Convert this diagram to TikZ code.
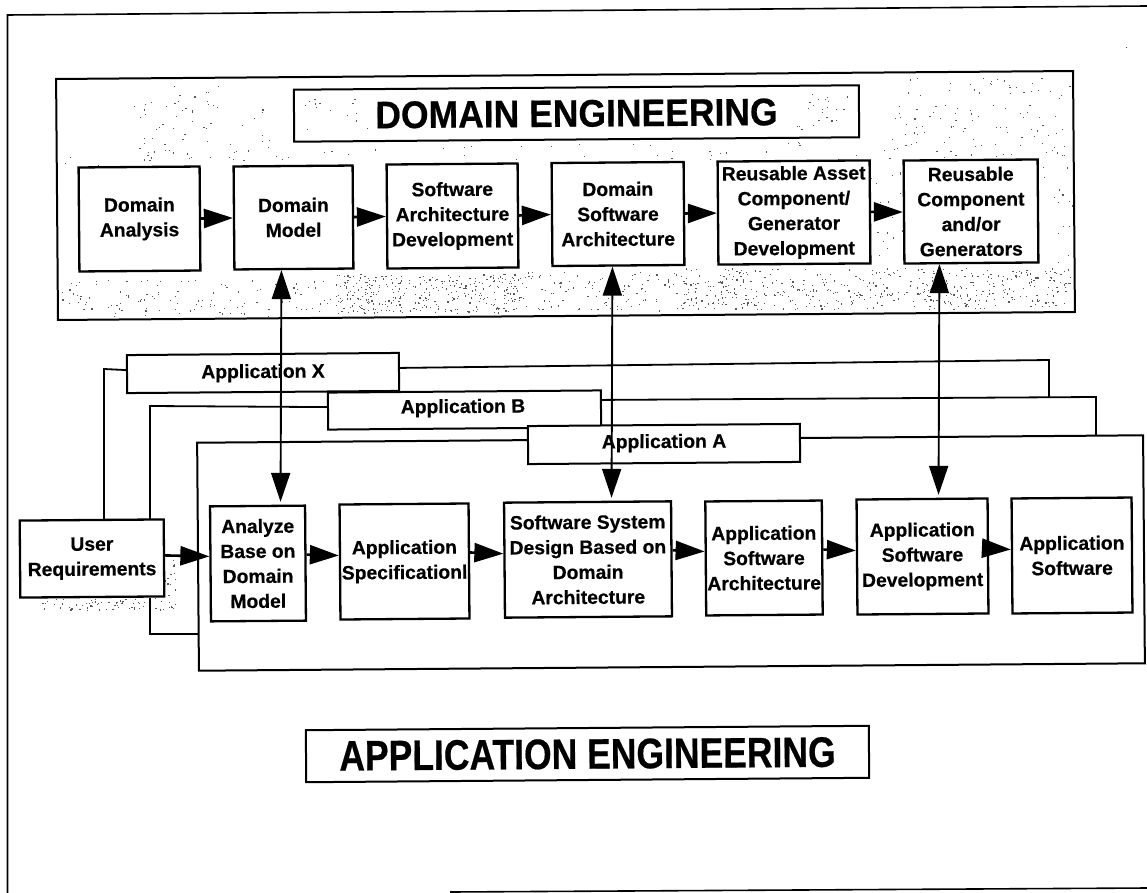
\documentclass[tikz,border=0pt]{standalone}
\usepackage{fontspec}
\setmainfont[BoldFeatures={FakeBold=0.5}]{Liberation Sans}
\usetikzlibrary{arrows.meta}
\tikzset{
  stage/.style={draw=black,fill=white,line width=2.3pt,inner sep=0pt,rotate=0.45,align=center,
    font=\fontsize{19.3}{25}\selectfont\bfseries},
  tabbox/.style={draw=black,fill=white,line width=2pt,inner sep=0pt,rotate=0.45,align=center,
    font=\fontsize{19.3}{25}\selectfont\bfseries},
  titlebox/.style={draw=black,fill=white,line width=2pt,inner sep=0pt,rotate=0.45,align=center,
    font=\fontsize{35.5}{40}\selectfont\bfseries},
  framebox/.style={draw=black,line width=2pt,inner sep=0pt,rotate=0.45},
  flow/.style={line width=2.6pt,-{Triangle[length=29pt,width=19pt]}},
  link/.style={line width=1.9pt,{Triangle[length=29pt,width=19pt]}-{Triangle[length=29pt,width=19pt]}},
  wire/.style={line width=1.8pt,line join=miter},
  outer/.style={line width=1.6pt}
}
\newcommand{\specks}[5]{%
  \foreach \k in {1,...,#5}{%
    \pgfmathsetmacro{\sx}{#1+rnd*(#2-#1)}%
    \pgfmathsetmacro{\sy}{#3+rnd*(#4-#3)}%
    \fill[black!65] (\sx,\sy) rectangle ++(1.2,1.2);%
  }%
}
\begin{document}
\begin{tikzpicture}[x=1pt,y=-1pt]
\useasboundingbox (0,0) rectangle (1147,893);
\fill[white] (0,0) rectangle (1147,893);
\pgfmathsetseed{4242}

% page frame
\coordinate (pgTR) at (1147,6);
\coordinate (pgTL) at (7.5,15);
\coordinate (pgBL) at (7.5,893);
\coordinate (pgBa) at (450,892);
\coordinate (pgBb) at (1147,888);
\draw[outer] (pgTR) -- (pgTL) -- (pgBL);
\draw[outer] (pgBa) -- (pgBb);
\fill[black!75] (1126,47) rectangle ++(1.4,1.4);

% scanned stipple of the domain panel
\specks{62}{340}{280}{316}{120}
\specks{335}{520}{274}{313}{340}
\specks{520}{690}{272}{311}{110}
\specks{680}{1000}{268}{309}{380}
\specks{1000}{1070}{268}{306}{90}
\specks{130}{270}{85}{160}{65}
\specks{60}{290}{150}{166}{12}
\specks{890}{1070}{78}{160}{110}
\specks{290}{860}{142}{160}{30}
\specks{860}{905}{140}{262}{30}
\specks{1040}{1072}{160}{268}{14}
\specks{40}{175}{598}{610}{70}
\specks{165}{175}{560}{600}{12}

% panels
\node[framebox,minimum width=1017pt,minimum height=241pt] (domainPanel) at (565.5,195.5) {};
\node[titlebox,minimum width=565pt,minimum height=52pt] (domainTitle) at (576.5,113.5) {\scalebox{1}[1.08]{DOMAIN ENGINEERING}};
\specks{300}{370}{92}{130}{14}
\specks{795}{850}{92}{130}{22}

\node[framebox,minimum width=946pt,minimum height=228pt] (appPanel) at (671,553) {};

% domain row
\node[stage,minimum width=121pt,minimum height=104pt] (dAnalysis) at (139.5,219) {Domain\\Analysis};
\node[stage,minimum width=119pt,minimum height=103pt] (dModel) at (293.5,217.5) {Domain\\Model};
\node[stage,minimum width=131pt,minimum height=104pt] (dSwDev) at (452.5,216) {Software\\Architecture\\Development};
\node[stage,minimum width=132pt,minimum height=103pt] (dSwArch) at (618,214) {Domain\\Software\\Architecture};
\node[stage,minimum width=152pt,minimum height=103pt] (dAsset) at (794,212.5) {Reusable Asset\\Component/\\Generator\\Development};
\node[stage,minimum width=134pt,minimum height=103pt] (dReuse) at (971,211.5) {Reusable\\Component\\and/or\\Generators};

% application back sheets
\node[stage,minimum width=144pt,minimum height=77pt] (user) at (92,558.5) {User\\Requirements};
\node[tabbox,minimum width=272pt,minimum height=38pt] (tabX) at (263,373) {};
\node[tabbox,minimum width=273pt,minimum height=37pt] (tabB) at (464.5,410) {};
\node[tabbox,minimum width=272pt,minimum height=38pt] (tabA) at (664,444) {};

\coordinate (xL) at (104,369);
\coordinate (xR) at (1049,360);
\coordinate (xRb) at (1049,397);
\coordinate (bL) at (150,406);
\coordinate (bLb) at (150,634);
\coordinate (bR) at (1096,397);
\coordinate (bRb) at (1096,435);
\coordinate (bEnd) at (198,634);

\draw[wire] ([yshift=4pt]tabX.west) -- (xL) -- (xL |- user.north);
\draw[wire] ([yshift=4pt]tabX.east) -- (xR) -- (xRb);
\draw[wire] ([yshift=4pt]tabB.west) -- (bL) -- (bL |- user.north);
\draw[wire] (bL |- user.south) -- (bLb) -- (bEnd);
\draw[wire] ([yshift=9pt]tabB.east) -- (bR) -- (bRb);

% tab labels on top
\node[inner sep=0pt,rotate=0.45,font=\fontsize{19.3}{25}\selectfont\bfseries] (labX) at (263,373) {Application X};
\node[inner sep=0pt,rotate=0.45,font=\fontsize{19.3}{25}\selectfont\bfseries] (labB) at (463,408) {Application B};
\node[inner sep=0pt,rotate=0.45,font=\fontsize{19.3}{25}\selectfont\bfseries] (labA) at (664,443) {Application A};

% application row
\node[stage,minimum width=95pt,minimum height=115pt] (aAnalyze) at (258,563.5) {Analyze\\Base on\\Domain\\Model};
\node[stage,minimum width=129pt,minimum height=115pt] (aSpec) at (404.5,561.5) {Application\\Specificationl};
\node[stage,minimum width=167pt,minimum height=115pt] (aDesign) at (588,559.5) {Software System\\Design Based on\\Domain\\Architecture};
\node[stage,minimum width=116.5pt,minimum height=114pt] (aArch) at (764,558) {Application\\Software\\Architecture};
\node[stage,minimum width=131pt,minimum height=115pt] (aDev) at (922.5,556.5) {Application\\Software\\Development};
\node[stage,minimum width=120pt,minimum height=115pt] (aSoft) at (1072,555.5) {Application\\Software};

\node[titlebox,minimum width=563pt,minimum height=52pt] (appTitle) at (587.5,754) {\scalebox{1}[1.2]{APPLICATION ENGINEERING}};

% flows
\draw[flow] (dAnalysis.east) -- (dModel.west);
\draw[flow] (dModel.east) -- (dSwDev.west);
\draw[flow] (dSwDev.east) -- (dSwArch.west);
\draw[flow] (dSwArch.east) -- (dAsset.west);
\draw[flow] (dAsset.east) -- (dReuse.west);

\draw[flow] ([yshift=2.5pt]user.east) -- ([yshift=7.5pt]aAnalyze.west);
\draw[flow] ([yshift=8.5pt]aAnalyze.east) -- ([yshift=6.5pt]aSpec.west);
\draw[flow] ([yshift=8.5pt]aSpec.east) -- ([yshift=6.5pt]aDesign.west);
\draw[flow] ([yshift=8.5pt]aDesign.east) -- ([yshift=7pt]aArch.west);
\draw[flow] ([yshift=8pt]aArch.east) -- ([yshift=6.5pt]aDev.west);
\draw[flow] ([yshift=7.5pt]aDev.east) -- ([yshift=6.5pt]aSoft.west);

% links between domain and application
\draw[link] ([xshift=-12.5pt]dModel.south) -- ([xshift=23pt,yshift=3pt]aAnalyze.north);
\draw[link] ([xshift=-6pt]dSwArch.south) -- ([xshift=24pt,yshift=3pt]aDesign.north);
\draw[link] ([xshift=-32pt]dReuse.south) -- ([xshift=16.5pt,yshift=3pt]aDev.north);
\end{tikzpicture}
\end{document}
